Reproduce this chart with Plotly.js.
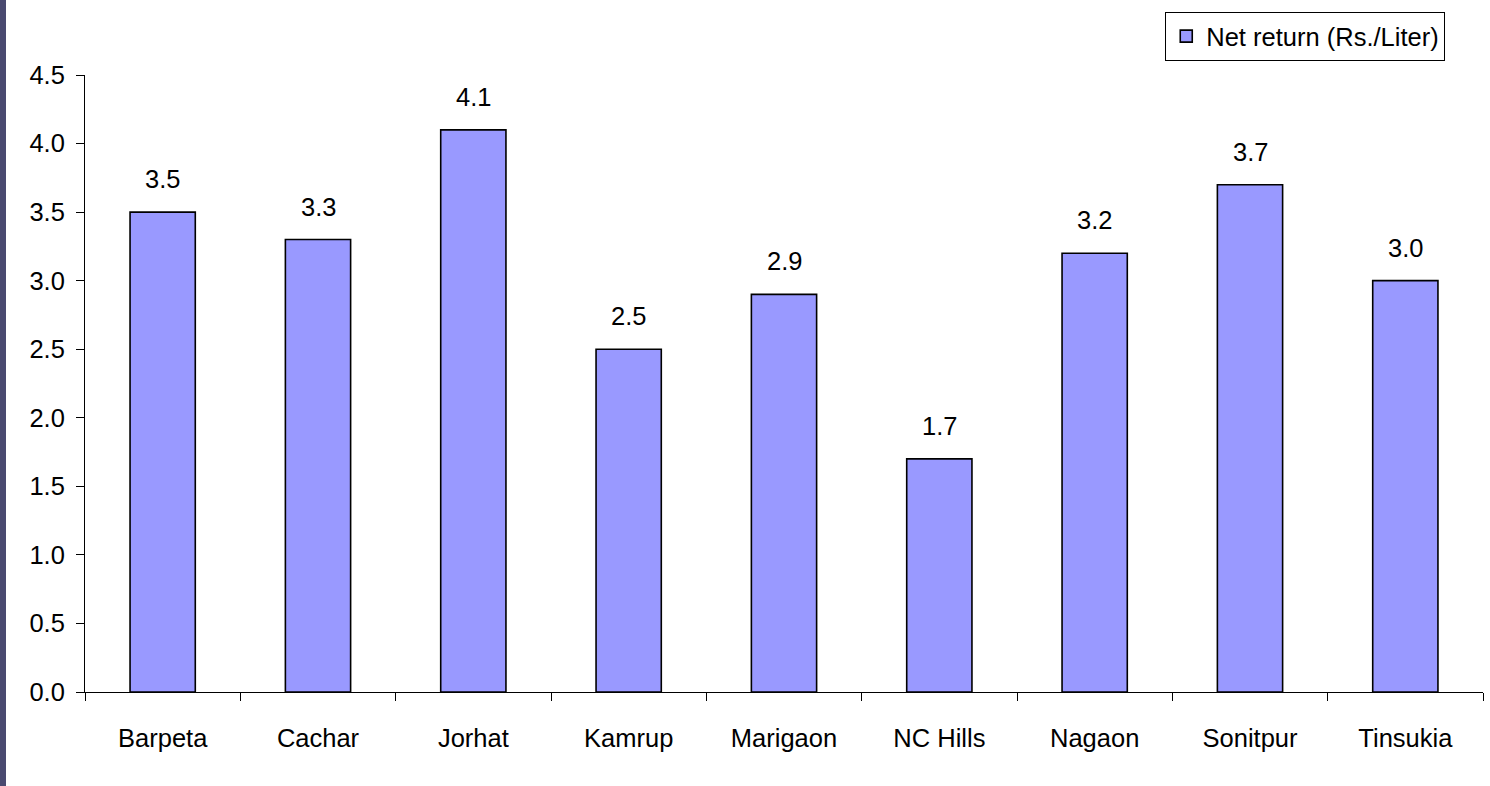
<!DOCTYPE html>
<html>
<head>
<meta charset="utf-8">
<script src="https://cdn.plot.ly/plotly-3.0.1.min.js"></script>
<style>
  html, body { margin: 0; padding: 0; background: #ffffff; }
  #chart { width: 1490px; height: 786px; }
  #strip { position: absolute; left: 0; top: 0; width: 6px; height: 786px; background: #4a4a70; z-index: 10; }
</style>
</head>
<body>
<div id="strip"></div>
<div id="chart"></div>
<script>
const districts = ["Barpeta", "Cachar", "Jorhat", "Kamrup", "Marigaon", "NC Hills", "Nagaon", "Sonitpur", "Tinsukia"];
const netReturn = [3.5, 3.3, 4.1, 2.5, 2.9, 1.7, 3.2, 3.7, 3.0];
const seriesName = "Net return (Rs./Liter)";
const yTicks = [0, 0.5, 1, 1.5, 2, 2.5, 3, 3.5, 4, 4.5];

const font = { family: "Liberation Sans, Arial, sans-serif", color: "#000000", size: 25.5 };

const trace = {
  type: "bar",
  x: districts,
  y: netReturn,
  name: seriesName,
  showlegend: true,
  marker: { color: "#9999FF", line: { color: "#000000", width: 1.6 } },
  hoverinfo: "x+y"
};

const annotations = districts.map((d, i) => ({
  x: d, y: netReturn[i], xref: "x", yref: "y",
  text: netReturn[i].toFixed(1),
  showarrow: false, yanchor: "bottom", yshift: 17,
  font: font
}));

const layout = {
  width: 1490, height: 786,
  margin: { l: 85, r: 7, t: 75, b: 94 },
  paper_bgcolor: "#ffffff", plot_bgcolor: "#ffffff",
  font: font,
  bargap: 0.58,
  showlegend: true,
  legend: {
    x: 0.973, xanchor: "right", y: 1.102, yanchor: "top",
    bordercolor: "#000000", borderwidth: 1, bgcolor: "#ffffff",
    font: font, itemwidth: 30
  },
  xaxis: {
    type: "category",
    showline: true, linecolor: "#000000", linewidth: 1,
    ticks: "outside", tickson: "boundaries", ticklen: 8, tickcolor: "#000000",
    ticklabelstandoff: 23,
    showgrid: false, zeroline: false,
    tickfont: font
  },
  yaxis: {
    range: [0, 4.5],
    tickvals: yTicks, tickformat: ".1f",
    showline: true, linecolor: "#000000", linewidth: 1,
    ticks: "outside", ticklen: 8, tickcolor: "#000000",
    ticklabelstandoff: 6,
    showgrid: false, zeroline: false,
    tickfont: font
  },
  annotations: annotations
};

Plotly.newPlot("chart", [trace], layout, { displayModeBar: false, staticPlot: true });
</script>
</body>
</html>
